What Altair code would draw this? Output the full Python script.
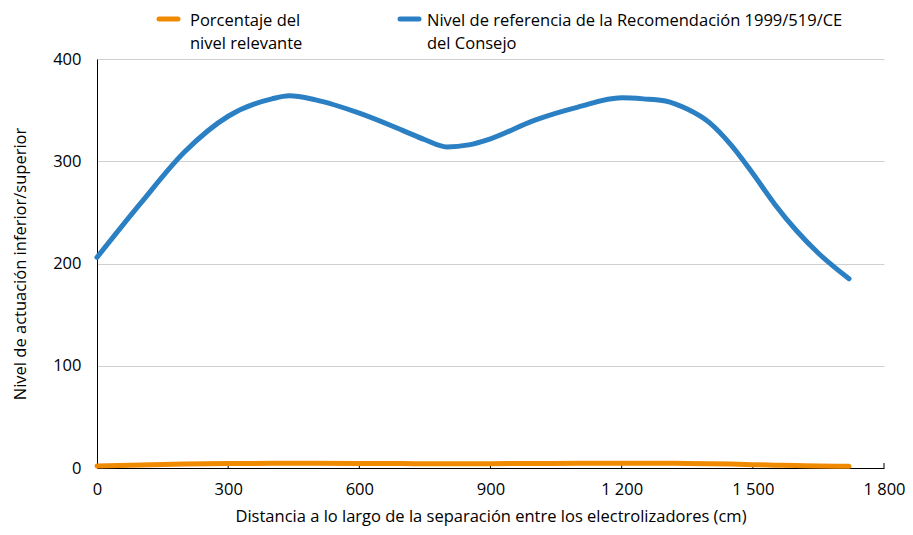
import altair as alt
import pandas as pd

distance = [0, 100, 200, 300, 400, 440, 500, 600, 700, 750, 800, 850, 900, 1000, 1100, 1200, 1250, 1300, 1350, 1400, 1450, 1500, 1550, 1600, 1650, 1720]
reference = [206, 259, 309, 344, 361, 364, 360, 347, 330, 321, 314, 316, 322, 340, 353, 362, 361, 359, 351, 338, 316, 288, 258, 232, 210, 185]
percentage = [2.0, 3.0, 3.8, 4.3, 4.6, 4.6, 4.6, 4.5, 4.3, 4.2, 4.1, 4.1, 4.2, 4.4, 4.6, 4.7, 4.7, 4.6, 4.5, 4.2, 3.8, 3.3, 2.8, 2.4, 2.0, 1.6]

series_names = ["Porcentaje del nivel relevante",
                "Nivel de referencia de la Recomendación 1999/519/CE del Consejo"]
legend_lines = [["Porcentaje del", "nivel relevante"],
                ["Nivel de referencia de la Recomendación 1999/519/CE", "del Consejo"]]
series_colors = ["#F08A00", "#2B7FC3"]
x_ticks = [0, 300, 600, 900, 1200, 1500, 1800]
y_ticks = [0, 100, 200, 300, 400]

rows = []
for d, p in zip(distance, percentage):
    rows.append({"d": d, "v": p, "s": series_names[0]})
for d, r in zip(distance, reference):
    rows.append({"d": d, "v": r, "s": series_names[1]})
df = pd.DataFrame(rows)

FONT = "Open Sans"
FS = 16.5
W, H = 787, 409
PAD = {"left": 89, "top": 51, "right": 21, "bottom": 59}

color_scale = alt.Scale(domain=series_names, range=series_colors)

lines = alt.Chart(df).mark_line(strokeWidth=5, interpolate="monotone", strokeCap="round").encode(
    x=alt.X("d:Q", scale=alt.Scale(domain=[0, 1800], nice=False),
            axis=alt.Axis(values=x_ticks, title="Distancia a lo largo de la separación entre los electrolizadores (cm)",
                          labelExpr="replace(format(datum.value, ','), ',', ' ')",
                          grid=False, ticks=False, domainColor="#000000", labelPadding=13,
                          labelFlush=False, titlePadding=11, labelFontSize=FS, titleFontSize=FS,
                          titleFontWeight="normal", labelColor="#000000", titleColor="#000000",
                          labelFont=FONT, titleFont=FONT)),
    y=alt.Y("v:Q", scale=alt.Scale(domain=[0, 400], nice=False),
            axis=alt.Axis(values=y_ticks, title="Nivel de actuación inferior/superior",
                          grid=True, gridColor="#D0D0D0", ticks=False, domainColor="#000000",
                          labelPadding=16, titlePadding=24, labelFontSize=FS, titleFontSize=FS,
                          titleFontWeight="normal", labelColor="#000000", titleColor="#000000",
                          labelFont=FONT, titleFont=FONT)),
    color=alt.Color("s:N", scale=color_scale, legend=None),
    order=alt.Order("d:Q"),
)

tick_df = pd.DataFrame({"t": x_ticks[1:]})
ticks = alt.Chart(tick_df).mark_rule(color="#000000", strokeWidth=1).encode(
    x="t:Q", y=alt.value(H - 5), y2=alt.value(H)
)

# manual legend (two entries, two-line labels)
leg_x = [60, 301]
txt_off = [33, 29]
legend_parts = []
for i in range(2):
    ldf = pd.DataFrame({"s": [series_names[i]], "label": [legend_lines[i]]})
    sym = alt.Chart(ldf).mark_rule(strokeWidth=5, strokeCap="round").encode(
        x=alt.value(leg_x[i] + 2), x2=alt.value(leg_x[i] + 21), y=alt.value(-40),
        color=alt.Color("s:N", scale=color_scale, legend=None))
    txt = alt.Chart(ldf).mark_text(align="left", baseline="middle", fontSize=FS, font=FONT,
                                   lineHeight=23, color="#000000").encode(
        x=alt.value(leg_x[i] + txt_off[i]), y=alt.value(-38), text="label")
    legend_parts += [sym, txt]

chart = alt.layer(ticks, lines, *legend_parts).properties(
    width=W, height=H, autosize=alt.AutoSizeParams(type="none"), padding=PAD
).configure_view(stroke=None)

chart.save("out.html", embed_options={"renderer": "svg", "actions": False})
